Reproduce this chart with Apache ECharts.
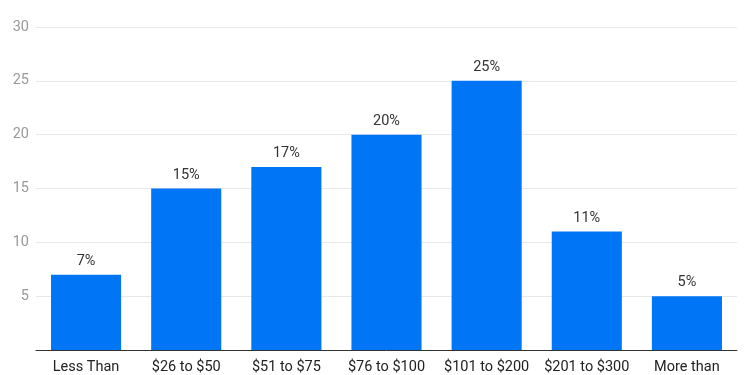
<!DOCTYPE html>
<html><head><meta charset="utf-8">
<script src="https://cdn.jsdelivr.net/npm/echarts@6/dist/echarts.min.js"></script>
<style>html,body{margin:0;padding:0;background:#fff}#c{width:750px;height:375px}</style>
</head><body><div id="c"></div>
<script>
const categories = ['Less Than\n$25', '$26 to $50', '$51 to $75', '$76 to $100', '$101 to $200', '$201 to $300', 'More than\n$300'];
const values = [7, 15, 17, 20, 25, 11, 5];
const yTicks = { min: 0, max: 30, interval: 5 };

const chart = echarts.init(document.getElementById('c'), null, { renderer: 'canvas' });
chart.setOption({
  animation: false,
  grid: { left: 36, right: 13, top: 27, bottom: 25, containLabel: false, outerBoundsMode: 'none' },
  xAxis: {
    type: 'category', data: categories,
    axisLine: { lineStyle: { color: '#333', width: 1 } },
    axisTick: { show: false },
    axisLabel: { color: '#222', fontSize: 14.5, fontFamily: 'Roboto', margin: 7, lineHeight: 20, interval: 0 }
  },
  yAxis: {
    type: 'value', min: yTicks.min, max: yTicks.max, interval: yTicks.interval,
    axisLine: { show: false }, axisTick: { show: false },
    axisLabel: { color: '#999', fontSize: 14.5, fontFamily: 'Roboto', margin: 7,
      formatter: v => v === 0 ? '' : String(v) },
    splitLine: { lineStyle: { color: '#e8e8e8' } }
  },
  series: [{
    type: 'bar', data: values, barWidth: '70%',
    itemStyle: { color: '#0076f7' },
    label: { show: true, position: 'top', distance: 6, color: '#333', fontSize: 14.5, fontFamily: 'Roboto', formatter: p => p.value + '%' }
  }]
});
</script></body></html>
